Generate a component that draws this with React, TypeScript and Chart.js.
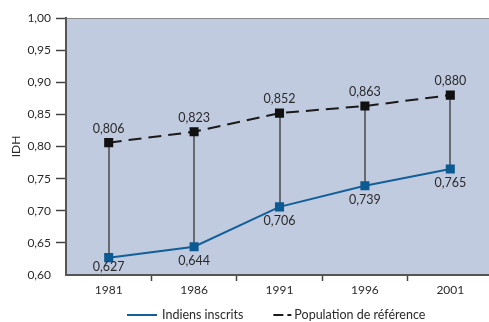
import React, { useEffect, useRef } from "react";
import { Chart, registerables } from "chart.js";

Chart.register(...registerables);

const years = ["1981", "1986", "1991", "1996", "2001"];
const indiensInscrits = [0.627, 0.644, 0.706, 0.739, 0.765];
const populationReference = [0.806, 0.823, 0.852, 0.863, 0.88];
const seriesNames = ["Indiens inscrits", "Population de référence"];
const yTitle = "IDH";

const FONT = "Lato, 'Open Sans', sans-serif";
const BLUE = "#135f98";
const BLUE_PT = "#0c5a92";
const BLACK = "#1a1a1a";
const TEXT = "#2a2a2a";
const PLOT_BG = "#c0cbe0";

const fmt = (v: number) => v.toFixed(3).replace(".", ",");

const customPlugin = {
  id: "custom",
  beforeDraw(chart: any) {
    const { ctx, chartArea: a } = chart;
    ctx.save();
    ctx.fillStyle = PLOT_BG;
    ctx.fillRect(a.left, a.top, a.right - a.left, a.bottom - a.top);
    ctx.strokeStyle = "#8a8a8a";
    ctx.lineWidth = 1;
    ctx.beginPath();
    ctx.moveTo(a.left, a.top + 0.5);
    ctx.lineTo(a.right, a.top + 0.5);
    ctx.stroke();
    ctx.restore();
  },
  beforeDatasetsDraw(chart: any) {
    const { ctx } = chart;
    const low = chart.getDatasetMeta(0).data;
    const high = chart.getDatasetMeta(1).data;
    ctx.save();
    ctx.strokeStyle = "#4a4a4a";
    ctx.lineWidth = 1.5;
    for (let i = 0; i < low.length; i++) {
      ctx.beginPath();
      ctx.moveTo(Math.round(low[i].x), low[i].y);
      ctx.lineTo(Math.round(high[i].x), high[i].y);
      ctx.stroke();
    }
    ctx.restore();
  },
  afterDatasetsDraw(chart: any) {
    const { ctx, chartArea: a } = chart;
    ctx.save();
    ctx.font = `12.5px ${FONT}`;
    ctx.fillStyle = TEXT;
    ctx.textAlign = "center";
    ctx.textBaseline = "middle";
    const low = chart.getDatasetMeta(0).data;
    const high = chart.getDatasetMeta(1).data;
    low.forEach((p: any, i: number) => {
      const y = Math.min(p.y + 14, a.bottom - 8);
      ctx.fillText(fmt(indiensInscrits[i]), p.x, y);
    });
    high.forEach((p: any, i: number) => {
      ctx.fillText(fmt(populationReference[i]), p.x, p.y - 14);
    });
    ctx.restore();
  },
  afterDraw(chart: any) {
    const { ctx, chartArea: a } = chart;
    ctx.save();
    ctx.font = `12.5px ${FONT}`;
    ctx.textBaseline = "middle";
    ctx.textAlign = "left";
    const w1 = ctx.measureText(seriesNames[0]).width;
    let x = a.left + 61;
    const y = 315;
    ctx.strokeStyle = BLUE;
    ctx.lineWidth = 2;
    ctx.beginPath();
    ctx.moveTo(x, y);
    ctx.lineTo(x + 30, y);
    ctx.stroke();
    x += 35;
    ctx.fillStyle = TEXT;
    ctx.fillText(seriesNames[0], x, y);
    x += w1 + 30;
    ctx.strokeStyle = BLACK;
    ctx.beginPath();
    ctx.moveTo(x, y);
    ctx.lineTo(x + 10, y);
    ctx.moveTo(x + 14, y);
    ctx.lineTo(x + 18, y);
    ctx.stroke();
    x += 21;
    ctx.fillText(seriesNames[1], x, y);
    ctx.restore();
  },
};

export default function App() {
  const ref = useRef<HTMLCanvasElement>(null);
  useEffect(() => {
    if (!ref.current) return;
    const chart = new Chart(ref.current, {
      type: "line",
      data: {
        labels: years,
        datasets: [
          {
            label: seriesNames[0],
            data: indiensInscrits,
            borderColor: BLUE,
            borderWidth: 2,
            backgroundColor: BLUE_PT,
            pointBackgroundColor: BLUE_PT,
            pointBorderColor: BLUE_PT,
            pointStyle: "rect",
            pointRadius: 5,
            tension: 0,
          },
          {
            label: seriesNames[1],
            data: populationReference,
            borderColor: BLACK,
            borderWidth: 2,
            borderDash: [13, 7],
            backgroundColor: "#111",
            pointBackgroundColor: "#111",
            pointBorderColor: "#111",
            pointStyle: "rect",
            pointRadius: 5,
            tension: 0,
          },
        ],
      },
      options: {
        animation: false,
        responsive: false,
        maintainAspectRatio: false,
        layout: { padding: { left: 0, right: 4, top: 18, bottom: 0 } },
        plugins: { legend: { display: false }, tooltip: { enabled: false } },
        scales: {
          x: {
            offset: true,
            grid: {
              offset: true,
              drawOnChartArea: false,
              drawTicks: true,
              tickLength: 6,
              tickWidth: 1.5,
              tickColor: (c: any) => (c.index === 0 ? "rgba(0,0,0,0)" : "#444"),
            },
            border: { color: "#555", width: 2 },
            ticks: { padding: 2, color: TEXT, font: { family: FONT, size: 12 } },
            afterFit: (s: any) => {
              s.height = 47;
            },
          },
          y: {
            min: 0.6,
            max: 1.0,
            ticks: {
              stepSize: 0.05,
              padding: 5,
              color: TEXT,
              font: { family: FONT, size: 12 },
              callback: (v: any) => Number(v).toFixed(2).replace(".", ","),
            },
            grid: {
              drawOnChartArea: false,
              drawTicks: true,
              tickLength: 10,
              tickWidth: 1.5,
              tickColor: (c: any) => (c.index === 0 ? "rgba(0,0,0,0)" : "#444"),
            },
            border: { color: "#555", width: 2 },
            title: {
              display: true,
              text: yTitle,
              color: TEXT,
              font: { family: FONT, size: 12 },
              padding: { top: 9, bottom: 0 },
            },
            afterFit: (s: any) => {
              s.width = 66;
            },
          },
        },
      },
      plugins: [customPlugin],
    });
    return () => chart.destroy();
  }, []);
  return (
    <div
      style={{
        position: "fixed",
        left: 0,
        top: 0,
        width: 489,
        height: 322,
        overflow: "hidden",
        background: "#fff",
      }}
    >
      <canvas ref={ref} width={500} height={322} style={{ display: "block", width: 500, height: 322 }} />
    </div>
  );
}
